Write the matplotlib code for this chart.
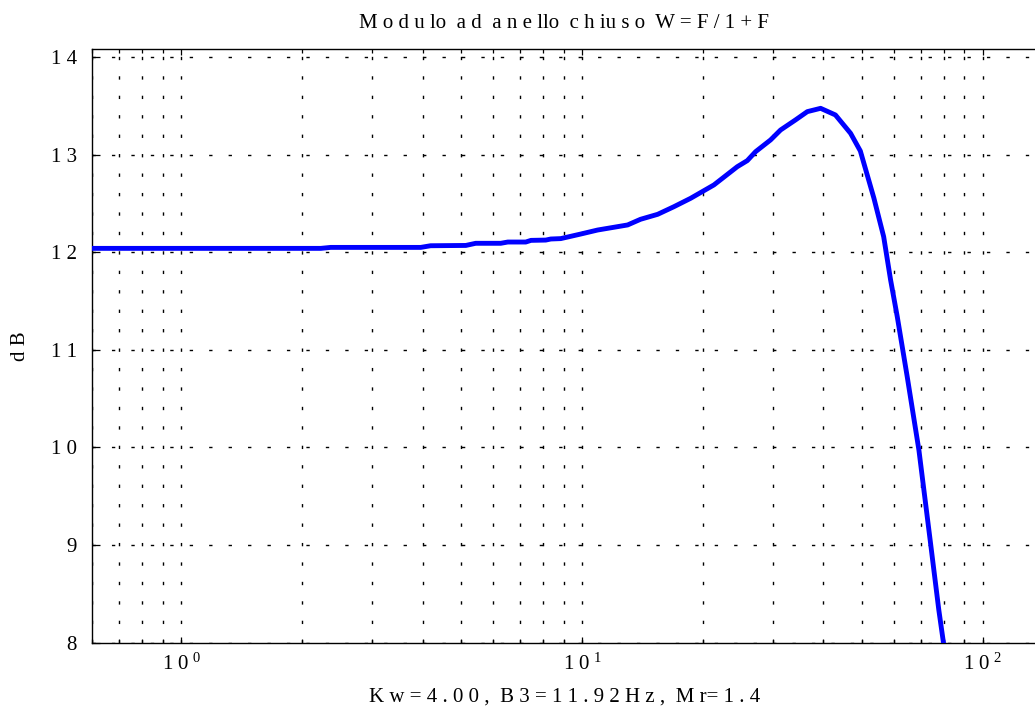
import numpy as np
import matplotlib
matplotlib.use("Agg")
import matplotlib.pyplot as plt
from matplotlib.ticker import FixedLocator, LogLocator, NullFormatter

plt.rcParams['font.family'] = ['Liberation Serif', 'DejaVu Serif']
plt.rcParams['mathtext.fontset'] = 'custom'
plt.rcParams['mathtext.rm'] = 'Liberation Serif'
plt.rcParams['mathtext.it'] = 'Liberation Serif'

# modulo della funzione ad anello chiuso W = F/(1+F)
freq_hz = [0.6, 2.23, 2.36, 3.96, 4.19, 5.13, 5.43, 6.27, 6.53, 7.24, 7.46,
           8.12, 8.36, 8.85, 9.93, 10.94, 13.0, 14.0, 15.45, 16.96, 18.67,
           21.34, 24.41, 25.85, 27.12, 29.55, 31.3, 34.1, 36.5, 39.4, 42.9,
           46.8, 49.5, 53.5, 56.6, 58.9, 61.2, 64.8, 69.3, 74.1, 77.7, 79.8]
mag_db = [12.04, 12.04, 12.05, 12.05, 12.067, 12.07, 12.092, 12.092, 12.105,
          12.105, 12.122, 12.125, 12.136, 12.14, 12.187, 12.228, 12.28,
          12.338, 12.389, 12.467, 12.553, 12.69, 12.877, 12.939, 13.031,
          13.151, 13.253, 13.356, 13.441, 13.475, 13.407, 13.219, 13.038,
          12.556, 12.16, 11.716, 11.34, 10.725, 9.974, 9.018, 8.335, 8.0]

y_ticks = [8, 9, 10, 11, 12, 13, 14]
y_labels = ['8', '9', '1 0', '1 1', '1 2', '1 3', '1 4']
x_ticks = [1, 10, 100]
x_labels = [r'$\mathregular{1\ 0^{\ 0}}$', r'$\mathregular{1\ 0^{\ 1}}$',
            r'$\mathregular{1\ 0^{\ 2}}$']

titolo = 'M o d u lo  a d  a n e llo  c h iu s o  W = F / 1 + F'
etichetta_x = 'K w = 4 . 0 0 ,  B 3 = 1 1 . 9 2 H z ,  M r= 1 . 4'
etichetta_y = 'd B'

fs = 15

fig = plt.figure(figsize=(10.35, 7.11), dpi=100)
ax = fig.add_axes([0.0892, 0.0961, 0.912, 0.8346])

ax.semilogx(freq_hz, mag_db, color=(0, 0, 1), linewidth=3.5, zorder=3)

ax.set_xlim(0.6, 136)
ax.set_ylim(8, 14.08)

ax.xaxis.set_major_locator(FixedLocator(x_ticks))
ax.set_xticklabels(x_labels)
ax.xaxis.set_minor_locator(LogLocator(base=10, subs=np.arange(2, 10)))
ax.xaxis.set_minor_formatter(NullFormatter())
ax.set_yticks(y_ticks)
ax.set_yticklabels(y_labels)

# griglia tratteggiata stile matlab
dash = (0, (2.4, 11.6))
ax.grid(which='major', axis='both', color='black', linewidth=1.0, linestyle=dash)
ax.grid(which='minor', axis='x', color='black', linewidth=1.0, linestyle=dash)

ax.tick_params(which='both', direction='in', top=True, right=False,
               labelsize=fs, width=0.9, color='black')
ax.tick_params(which='major', axis='x', length=4.5, pad=8)
ax.tick_params(which='minor', axis='x', length=3)
ax.tick_params(which='major', axis='y', length=6, pad=11)

for s in ['left', 'bottom', 'top']:
    ax.spines[s].set_linewidth(1.0)
ax.spines['right'].set_visible(False)

ax.set_title(titolo, fontsize=fs, pad=15)
ax.set_xlabel(etichetta_x, fontsize=fs, labelpad=9)
ax.set_ylabel(etichetta_y, fontsize=fs)
ax.yaxis.set_label_coords(-0.066, 0.5)

fig.savefig('out.png', dpi=100)
